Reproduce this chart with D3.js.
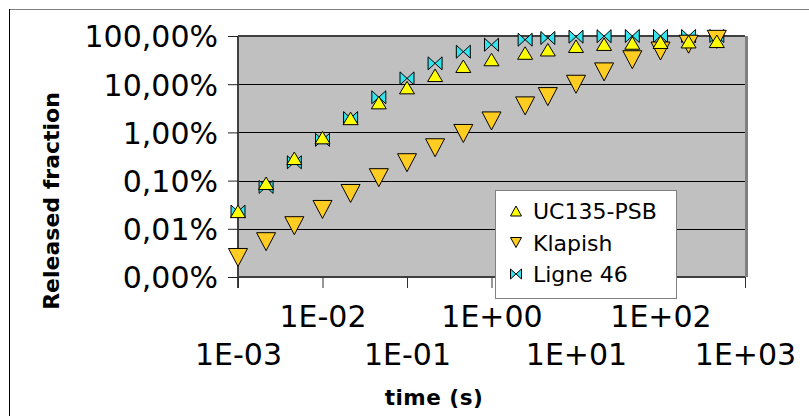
<!DOCTYPE html>
<html>
<head>
<meta charset="utf-8">
<script src="https://cdn.jsdelivr.net/npm/d3@7"></script>
<style>
  body { margin: 0; background: #fff; }
  svg { display: block; font-family: "DejaVu Sans", sans-serif; }
</style>
</head>
<body>
<script>
// time (s) for each measurement
const times = [0.001, 0.00215, 0.00464, 0.01, 0.0215, 0.0464, 0.1, 0.215, 0.464,
    1, 2.5, 4.64, 10, 21.5, 46.4, 100, 215, 464]

// released fraction per series
const uc135 = [2.3e-4, 8.8e-4, 2.9e-3, 7.8e-3, 0.0195, 0.0415, 0.085, 0.153, 0.236,
    0.325, 0.443, 0.519, 0.614, 0.676, 0.716, 0.743, 0.762, 0.776]
const klapish = [2.54e-5, 5.4e-5, 1.16e-4, 2.52e-4, 5.4e-4, 1.15e-3, 2.35e-3, 4.8e-3, 9.5e-3,
    0.0173, 0.0355, 0.0553, 0.0997, 0.18, 0.322, 0.488, 0.676, 0.853]
const ligne46 = [2.28e-4, 7.4e-4, 2.4e-3, 7.0e-3, 0.0198, 0.0535, 0.132, 0.271, 0.472,
    0.659, 0.838, 0.909, 0.967, 0.99, 1.0, 1.0, 1.0, 1.0]

const seriesNames = ['UC135-PSB', 'Klapish', 'Ligne 46']
const xTicks = [1e-3, 1e-2, 1e-1, 1e0, 1e1, 1e2, 1e3]
const yTicks = [1e-5, 1e-4, 1e-3, 1e-2, 1e-1, 1]

const width = 809, height = 416
const plotL = 238, plotR = 745, plotT = 36, plotB = 277

const svg = d3.select('body').append('svg')
    .attr('width', width)
    .attr('height', height)

// outer frame (only top and left edges are visible)
svg.append('line').attr('x1', 9).attr('x2', width).attr('y1', 9.5).attr('y2', 9.5)
    .attr('stroke', '#808080')
svg.append('line').attr('x1', 9.5).attr('x2', 9.5).attr('y1', 9).attr('y2', height)
    .attr('stroke', '#000')

const x = d3.scaleLog().domain([1e-3, 1e3]).range([plotL, plotR])
const y = d3.scaleLog().domain([1e-5, 1]).range([plotB, plotT])

// plot wall
svg.append('rect')
    .attr('x', plotL).attr('y', plotT)
    .attr('width', plotR - plotL).attr('height', plotB - plotT)
    .attr('fill', '#c0c0c0')
svg.append('line').attr('x1', plotR + 1.5).attr('x2', plotR + 1.5)
    .attr('y1', plotT).attr('y2', plotB)
    .attr('stroke', '#808080').attr('stroke-width', 3)
svg.append('line').attr('x1', plotL).attr('x2', plotR)
    .attr('y1', plotT).attr('y2', plotT)
    .attr('stroke', '#404040').attr('stroke-width', 2)

// gridlines
svg.append('g')
    .selectAll('line')
    .data(yTicks.slice(1, -1))
    .enter()
    .append('line')
    .attr('x1', plotL).attr('x2', plotR)
    .attr('y1', d => Math.round(y(d)) + 0.5).attr('y2', d => Math.round(y(d)) + 0.5)
    .attr('stroke', '#000')

// y axis
const pct = d3.format('.2%')
const yAxis = d3.axisLeft(y)
    .tickValues(yTicks)
    .tickSize(10)
    .tickSizeOuter(0)
    .tickPadding(10)
    .tickFormat(d => pct(d).replace('.', ','))
const gy = svg.append('g')
    .attr('transform', `translate(${plotL},0)`)
    .call(yAxis)
gy.select('.domain').attr('stroke', '#404040').attr('stroke-width', 2)
    .attr('d', `M0,${plotT}V${plotB + 11}`)
gy.selectAll('.tick line').attr('stroke', '#202020')
gy.selectAll('.tick text')
    .attr('font-size', 30)
    .attr('font-family', '"DejaVu Sans", sans-serif')
    .attr('fill', '#000')
    .attr('dy', '0.36em')

// x axis
const expLabel = d => {
    const e = Math.round(Math.log10(d))
    return '1E' + (e < 0 ? '-' : '+') + String(Math.abs(e)).padStart(2, '0')
}
const xAxis = d3.axisBottom(x)
    .tickValues(xTicks)
    .tickSize(11)
    .tickSizeOuter(0)
    .tickFormat(expLabel)
const gx = svg.append('g')
    .attr('transform', `translate(0,${plotB})`)
    .call(xAxis)
gx.select('.domain').attr('stroke', '#404040').attr('stroke-width', 2)
    .attr('d', `M${plotL},0H${plotR}`)
gx.selectAll('.tick line').attr('stroke', '#303030')
gx.selectAll('.tick text')
    .attr('font-size', 30)
    .attr('font-family', '"DejaVu Sans", sans-serif')
    .attr('fill', '#000')
    .attr('dy', null)
    .attr('y', (d, i) => i % 2 === 0 ? 88 : 50)

// marker shapes
function upTri(w, h) { return `M0,${-h / 2}L${w / 2},${h / 2}L${-w / 2},${h / 2}Z` }
function downTri(w, h) { return `M0,${h / 2}L${w / 2},${-h / 2}L${-w / 2},${-h / 2}Z` }
function bowtie(w, h) { return `M${-w / 2},${-h / 2}L${w / 2},${h / 2}L${w / 2},${-h / 2}L${-w / 2},${h / 2}Z` }

const series = [
    { name: seriesNames[2], values: ligne46, fill: '#33e4ee', shape: bowtie, w: 14, h: 13 },
    { name: seriesNames[1], values: klapish, fill: '#ffcc22', shape: downTri, w: 19, h: 18 },
    { name: seriesNames[0], values: uc135, fill: '#ffff00', shape: upTri, w: 15, h: 12.5 }
]

series.forEach(s => {
    svg.append('g')
        .selectAll('path')
        .data(times.map((t, i) => [t, s.values[i]]))
        .enter()
        .append('path')
        .attr('transform', d => `translate(${x(d[0])},${y(d[1])})`)
        .attr('d', s.shape(s.w, s.h))
        .attr('fill', s.fill)
        .attr('stroke', '#000')
        .attr('stroke-width', 1)
        .attr('stroke-linejoin', 'miter')
})

// legend
const legend = svg.append('g').attr('transform', 'translate(495,190)')
legend.append('rect')
    .attr('x', 0.5).attr('y', 0.5)
    .attr('width', 181).attr('height', 108)
    .attr('fill', '#fff')
    .attr('stroke', '#808080')
const legendOrder = [series[2], series[1], series[0]]
legend.selectAll('g.item')
    .data(legendOrder)
    .enter()
    .append('g')
    .attr('class', 'item')
    .attr('transform', (d, i) => `translate(0,${21 + i * 31.5})`)
    .each(function (d) {
        const g = d3.select(this)
        g.append('path')
            .attr('transform', 'translate(21,0)')
            .attr('d', d.shape(11, 10))
            .attr('fill', d.fill)
            .attr('stroke', '#000')
        g.append('text')
            .attr('x', 38)
            .attr('y', 8)
            .attr('font-size', 22)
            .text(d.name)
    })

// axis titles
svg.append('text')
    .attr('x', 434)
    .attr('y', 405)
    .attr('text-anchor', 'middle')
    .attr('font-size', 21.5)
    .attr('font-weight', 'bold')
    .attr('letter-spacing', 0.5)
    .text('time (s)')

svg.append('text')
    .attr('transform', 'translate(59,201) rotate(-90)')
    .attr('text-anchor', 'middle')
    .attr('font-size', 22)
    .attr('font-weight', 'bold')
    .text('Released fraction')
</script>
</body>
</html>
